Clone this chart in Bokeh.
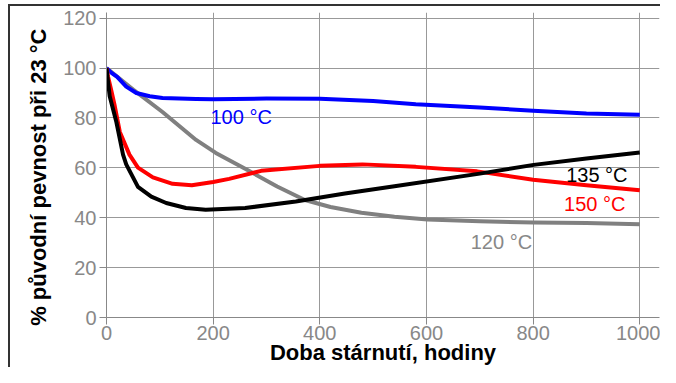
from bokeh.plotting import figure
from bokeh.models import Range1d, FixedTicker
from bokeh.core.properties import value
from bokeh.embed import file_html
from bokeh.resources import INLINE

# 100 °C
hours_100 = [0, 10, 20, 37, 56, 81, 105, 168, 200, 300, 400, 500, 580, 700, 800, 900, 1000]
pct_100 = [100, 98, 96.5, 92.6, 90, 88.7, 88, 87.6, 87.5, 87.8, 87.7, 86.8, 85.5, 84.2, 82.9, 81.8, 81.3]

# 150 °C
hours_150 = [0, 3, 9, 15.5, 25, 43, 59, 87, 124, 160, 200, 230, 290, 400, 480, 580, 695, 800, 900, 1000]
pct_150 = [100, 96.5, 91, 84.8, 74.4, 65.3, 60.1, 56.2, 53.6, 53, 54.3, 55.6, 58.8, 60.8, 61.4, 60.4, 58.6, 55.2, 53, 51]

# 135 °C
hours_135 = [0, 6, 18.6, 31, 37, 59, 84, 112, 149, 186, 260, 355, 447, 540, 700, 801, 900, 1000]
pct_135 = [100, 88.7, 78.3, 65.3, 61.4, 52.4, 48.5, 45.9, 43.9, 43.2, 43.9, 46.5, 49.7, 52.6, 57.7, 61.2, 63.8, 66.2]

# 120 °C
hours_120 = [0, 50, 105, 168, 205, 267, 320, 372, 420, 478, 540, 602, 700, 801, 900, 1000]
pct_120 = [100, 91.4, 82.4, 71.2, 66, 58.8, 52.5, 47.1, 44.3, 42, 40.4, 39.3, 38.6, 38.1, 37.9, 37.4]

x_ticks = [0, 200, 400, 600, 800, 1000]
y_ticks = [0, 20, 40, 60, 80, 100, 120]

label_text = ["100 °C", "135 °C", "150 °C", "120 °C"]
label_x = [195, 862, 858, 683]
label_y = [80.3, 57.3, 45.6, 30.3]
label_color = ["#0000ff", "#000000", "#ff0000", "#888888"]

x_title = "Doba stárnutí, hodiny"
y_title = "% původní pevnost při 23 °C"

FONT = "Liberation Sans"

p = figure(width=660, height=367, output_backend="svg", toolbar_location=None,
           x_range=Range1d(0, 1037), y_range=Range1d(0, 122.3),
           min_border_left=106, min_border_right=1, min_border_top=12, min_border_bottom=49)
p.outline_line_color = None
p.background_fill_color = "white"
p.border_fill_alpha = 0
p.styles = {"box-shadow": "inset 8px 4px 0 0 #ffffff, inset 10px 6px 0 0 #333333"}

for ax in (p.xaxis[0], p.yaxis[0]):
    ax.axis_line_color = "#888888"
    ax.major_tick_line_color = "#888888"
    ax.major_tick_out = 7
    ax.major_tick_in = 0
    ax.minor_tick_line_color = None
    ax.major_label_text_font = FONT
    ax.major_label_text_font_size = "20px"
    ax.major_label_text_color = "#888888"
    ax.axis_label_text_font = FONT
    ax.axis_label_text_font_size = "22px"
    ax.axis_label_text_font_style = "bold"
    ax.axis_label_text_color = "#000000"

p.xaxis.ticker = FixedTicker(ticks=x_ticks)
p.yaxis.ticker = FixedTicker(ticks=y_ticks)
p.xaxis.axis_label = x_title
# trailing no-break spaces shift the centred title down a little, as in the reference
p.yaxis.axis_label = y_title + "\u00a0" * 4
p.xaxis.major_label_standoff = 1
p.yaxis.major_label_standoff = 3
p.xaxis.axis_label_standoff = -3
p.yaxis.axis_label_standoff = 9

p.xgrid.ticker = FixedTicker(ticks=x_ticks)
p.ygrid.ticker = FixedTicker(ticks=y_ticks)
p.grid.grid_line_color = "#999999"
p.grid.grid_line_width = 1

p.line(hours_120, pct_120, line_color="#808080", line_width=4, line_join="round")
p.line(hours_100, pct_100, line_color="#0000ff", line_width=4, line_join="round")
p.line(hours_150, pct_150, line_color="#ff0000", line_width=4, line_join="round")
p.line(hours_135, pct_135, line_color="#000000", line_width=4, line_join="round")

p.text(x=label_x, y=label_y, text=label_text, text_color=label_color,
       text_font=value(FONT), text_font_size="20px",
       text_align="left", text_baseline="alphabetic")

open("out.html", "w").write(file_html(p, INLINE))
